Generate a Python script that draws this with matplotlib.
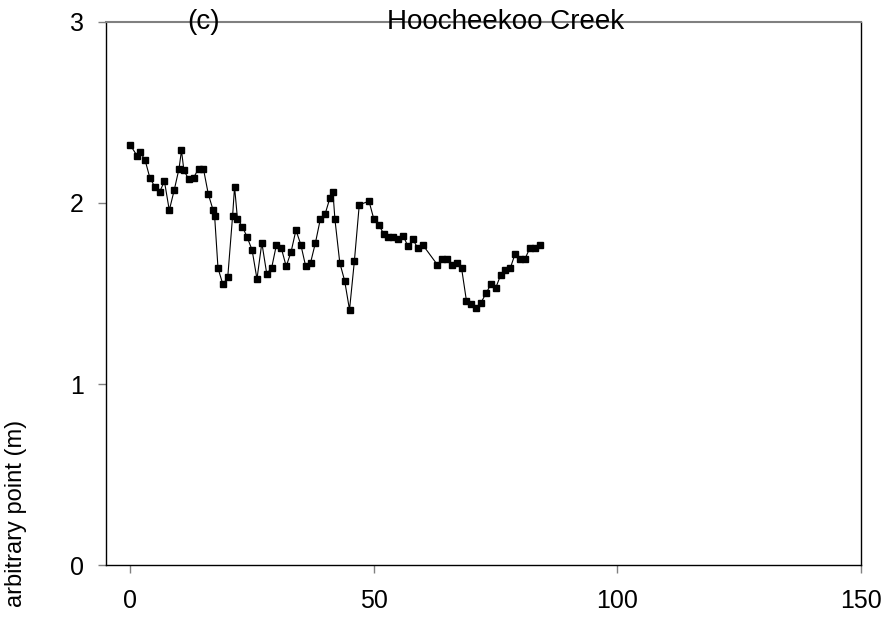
import numpy as np
import matplotlib
matplotlib.use("Agg")
import matplotlib.pyplot as plt

plt.rcParams['font.family'] = ['Liberation Sans', 'DejaVu Sans']

# distance along the creek and elevation above an arbitrary point
dist = [0, 1.4, 2, 3, 4, 5, 6, 7, 8, 9, 10, 10.5, 11, 12, 13, 14, 15, 16, 17, 17.3,
        18, 19, 20, 21, 21.4, 22, 23, 24, 25, 26, 27, 28, 29, 30, 31, 32, 33, 34,
        35, 36, 37, 38, 39, 40, 41, 41.6, 42, 43, 44, 45, 46, 47, 49, 50, 51, 52,
        53, 54, 55, 56, 57, 58, 59, 60, 63, 64, 65, 66, 67, 68, 69, 70, 71, 72,
        73, 74, 75, 76, 77, 78, 79, 80, 81, 82, 83, 84]
elev = [2.32, 2.26, 2.28, 2.24, 2.14, 2.09, 2.06, 2.12, 1.96, 2.07, 2.19, 2.29, 2.18,
        2.13, 2.14, 2.19, 2.19, 2.05, 1.96, 1.93, 1.64, 1.55, 1.59, 1.93, 2.09, 1.91,
        1.87, 1.81, 1.74, 1.58, 1.78, 1.61, 1.64, 1.77, 1.75, 1.65, 1.73, 1.85, 1.77,
        1.65, 1.67, 1.78, 1.91, 1.94, 2.03, 2.06, 1.91, 1.67, 1.57, 1.41, 1.68, 1.99,
        2.01, 1.91, 1.88, 1.83, 1.81, 1.81, 1.80, 1.82, 1.76, 1.80, 1.75, 1.77, 1.66,
        1.69, 1.69, 1.66, 1.67, 1.64, 1.46, 1.44, 1.42, 1.45, 1.50, 1.55, 1.53, 1.60,
        1.63, 1.64, 1.72, 1.69, 1.69, 1.75, 1.75, 1.77]

xticks = [0, 50, 100, 150]
yticks = [0, 1, 2, 3]

fig = plt.figure(figsize=(8.89, 6.19), dpi=100)
ax = fig.add_axes([0.1192, 0.0872, 0.8493, 0.8773])

ax.plot(dist, elev, color="black", lw=0.8, marker="s", ms=3.8,
        mfc="black", mec="black", clip_on=False)

ax.set_xlim(-5, 150)
ax.set_ylim(0, 3)
ax.set_xticks(xticks)
ax.set_yticks(yticks)
ax.tick_params(axis="x", direction="out", length=6, width=1, color="gray",
               labelsize=18, pad=11)
ax.tick_params(axis="y", direction="out", length=6, width=1, color="gray",
               labelsize=18, pad=10)

for s in ["left", "bottom", "right"]:
    ax.spines[s].set_color("black")
    ax.spines[s].set_linewidth(1)
ax.spines["top"].set_color("gray")
ax.spines["top"].set_linewidth(1.5)

# panel label and title sit right on the top frame line
ax.text(15, 3, "(c)", fontsize=20, ha="center", va="center")
ax.text(77, 3, "Hoocheekoo Creek", fontsize=20, ha="center", va="center")

ax.set_ylabel("arbitrary point (m)", fontsize=17)
ax.yaxis.set_label_coords(-0.104, 0.095)

fig.savefig("out.png", dpi=100)
